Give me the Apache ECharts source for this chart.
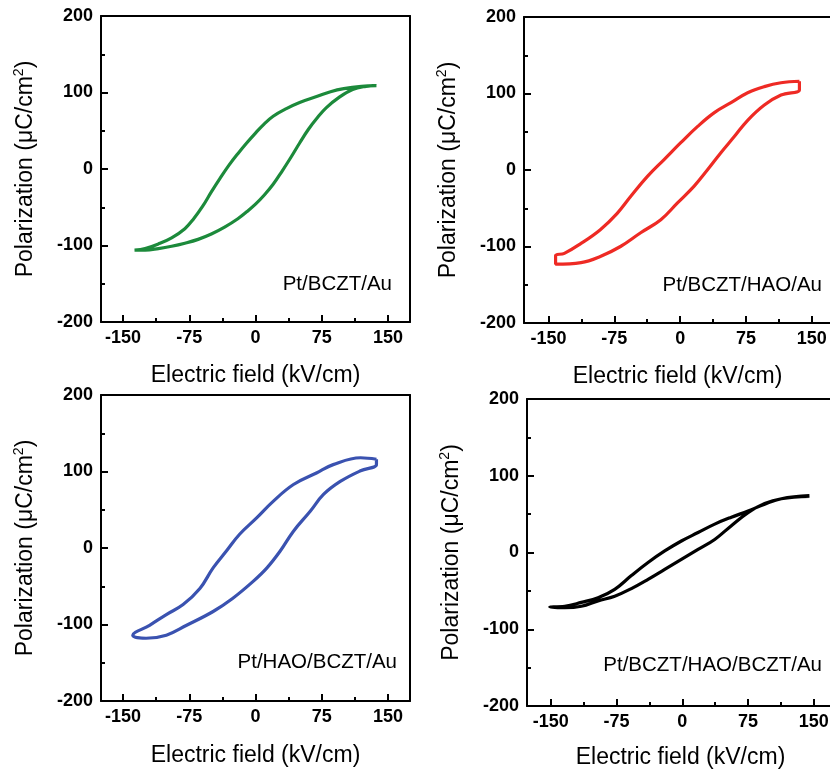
<!DOCTYPE html>
<html><head><meta charset="utf-8">
<script src="https://cdn.jsdelivr.net/npm/echarts@6/dist/echarts.min.js"></script>
<style>html,body{margin:0;padding:0;background:#fff;}#c{width:830px;height:769px;}</style>
</head><body><div id="c"></div>
<script>
// ---- tick values ----
const xTicks = [-150, -75, 0, 75, 150];
const xMinorTicks = [-112.5, -37.5, 37.5, 112.5];
const panelLabels = ['Pt/BCZT/Au', 'Pt/BCZT/HAO/Au', 'Pt/HAO/BCZT/Au', 'Pt/BCZT/HAO/BCZT/Au'];
const xTitle = 'Electric field (kV/cm)';

// ---- Panel 1: Pt/BCZT/Au (green) ----
const e1Up = [137, 120, 100, 85, 70, 50, 35, 20, 10, 0, -10, -20, -30, -40, -50, -60, -70, -80, -95, -110, -125, -137];
const p1Up = [109, 108, 105, 101, 95, 87, 79, 69, 59, 47, 34, 20, 5, -12, -30, -49, -65, -78, -90, -98, -104, -106];
const e1Dn = [-137, -125, -110, -95, -80, -65, -50, -35, -20, -10, 0, 10, 20, 30, 40, 50, 60, 70, 80, 95, 110, 125, 137];
const p1Dn = [-106, -106, -104, -101, -97, -92, -85, -76, -65, -56, -46, -34, -20, -3, 15, 34, 52, 67, 80, 94, 104, 108, 109];

// ---- Panel 2: Pt/BCZT/HAO/Au (red) ----
const e2Up = [136, 115, 96, 77, 58, 39, 20, 1, -18, -37, -56, -72, -91, -113, -132, -142];
const p2Up = [116, 114, 109, 101, 88, 75, 57, 36, 14, -8, -34, -57, -78, -96, -109, -112];
const e2Dn = [-142, -113, -91, -68, -45, -22, -3, 16, 31, 46, 62, 77, 96, 115, 136, 136];
const p2Dn = [-123, -121, -113, -100, -82, -65, -43, -21, 0, 22, 44, 65, 85, 98, 105, 116];

// ---- Panel 3: Pt/HAO/BCZT/Au (blue) ----
const e3Up = [137, 119, 88, 69, 43, 20, 1, -18, -33, -48, -63, -82, -101, -120, -139];
const p3Up = [116, 118, 109, 98, 83, 61, 39, 18, -4, -26, -53, -74, -87, -101, -114];
const e3Dn = [-139, -124, -101, -78, -48, -26, -3, 13, 28, 43, 62, 77, 96, 119, 137, 137];
const p3Dn = [-114, -118, -114, -101, -83, -66, -44, -26, -4, 22, 48, 70, 87, 101, 109, 116];

// ---- Panel 4: Pt/BCZT/HAO/BCZT/Au (black) ----
const e4Up = [145, 113, 94, 75, 56, 37, 18, -1, -20, -39, -58, -77, -96, -115, -134, -151];
const p4Up = [74, 70, 63, 54, 46, 37, 26, 15, 2, -13, -30, -48, -59, -65, -70, -71];
const e4Dn = [-151, -134, -115, -96, -77, -58, -39, -20, -1, 18, 37, 56, 75, 94, 113, 145];
const p4Dn = [-71, -72, -70, -63, -57, -47, -35, -22, -9, 4, 17, 35, 52, 64, 70, 73];

const loops = [
  [e1Up, p1Up, e1Dn, p1Dn],
  [e2Up, p2Up, e2Dn, p2Dn],
  [e3Up, p3Up, e3Dn, p3Dn],
  [e4Up, p4Up, e4Dn, p4Dn]
];
const colors = ['#1c8a3b', '#ee2a24', '#3a52b0', '#000000'];

// ---- layout (pixels) ----
const layout = [
  {left: 101, top: 16, width: 309, height: 306, xmin: -175, xmax: 175, yGap: 62, xGap: 42, lx: 392, ly: 284},
  {left: 524, top: 17, width: 307, height: 306, xmin: -178, xmax: 172, yGap: 62, xGap: 42, lx: 822, ly: 285},
  {left: 101, top: 395, width: 309, height: 306, xmin: -175, xmax: 175, yGap: 62, xGap: 43, lx: 397, ly: 662},
  {left: 527, top: 399, width: 307, height: 307, xmin: -177, xmax: 173, yGap: 62, xGap: 40, lx: 822, ly: 665}
];

const FONT = '"Liberation Sans", Arial, Helvetica, sans-serif';
const grid = [], xAxis = [], yAxis = [], series = [], graphic = [];
const lineSty = {color: '#000', width: 2};
layout.forEach((L, i) => {
  grid.push({left: L.left, top: L.top, width: L.width, height: L.height,
    outerBoundsMode: 'none', containLabel: false, show: false});
  // main bottom axis: labels + major ticks
  xAxis.push({
    type: 'value', gridIndex: i, min: L.xmin, max: L.xmax, position: 'bottom',
    name: xTitle, nameLocation: 'middle', nameGap: L.xGap,
    nameTextStyle: {fontFamily: FONT, fontSize: 23, color: '#000'},
    axisLine: {show: true, onZero: false, lineStyle: lineSty},
    axisTick: {show: true, inside: true, length: 7, lineStyle: lineSty, customValues: xTicks},
    axisLabel: {show: true, margin: 7, fontFamily: FONT, fontSize: 18, fontWeight: 'bold', color: '#000', customValues: xTicks},
    splitLine: {show: false}
  });
  // minor ticks on bottom
  xAxis.push({
    type: 'value', gridIndex: i, min: L.xmin, max: L.xmax, position: 'bottom',
    axisLine: {show: false, onZero: false},
    axisTick: {show: true, inside: true, length: 4, lineStyle: lineSty, customValues: xMinorTicks},
    axisLabel: {show: false}, splitLine: {show: false}
  });
  // top frame line
  xAxis.push({
    type: 'value', gridIndex: i, min: L.xmin, max: L.xmax, position: 'top',
    axisLine: {show: true, onZero: false, lineStyle: lineSty},
    axisTick: {show: false}, axisLabel: {show: false}, splitLine: {show: false}
  });
  yAxis.push({
    type: 'value', gridIndex: i, min: -200, max: 200, interval: 100, position: 'left',
    name: '{a|Polarization (μC/cm}{s|2}{a|)}', nameLocation: 'middle', nameGap: L.yGap, nameRotate: 90,
    nameTextStyle: {fontFamily: FONT, fontSize: 23, color: '#000',
      rich: {a: {fontFamily: FONT, fontSize: 23, color: '#000', lineHeight: 27},
             s: {fontFamily: FONT, fontSize: 14, color: '#000', verticalAlign: 'top', lineHeight: 27}}},
    axisLine: {show: true, onZero: false, lineStyle: lineSty},
    axisTick: {show: true, inside: true, length: 7, lineStyle: lineSty},
    minorTick: {show: true, splitNumber: 2, length: 4, lineStyle: lineSty},
    axisLabel: {show: true, margin: 8, fontFamily: FONT, fontSize: 18, fontWeight: 'bold', color: '#000'},
    splitLine: {show: false}, minorSplitLine: {show: false}
  });
  // right frame line
  yAxis.push({
    type: 'value', gridIndex: i, min: -200, max: 200, position: 'right',
    axisLine: {show: true, onZero: false, lineStyle: lineSty},
    axisTick: {show: false}, axisLabel: {show: false}, splitLine: {show: false}
  });
  const [eu, pu, ed, pd] = loops[i];
  const data = eu.map((e, k) => [e, pu[k]]).concat(ed.map((e, k) => [e, pd[k]]));
  series.push({
    type: 'line', xAxisIndex: i * 3, yAxisIndex: i * 2, data: data,
    showSymbol: false, smooth: 0.4, clip: false,
    lineStyle: {color: colors[i], width: 3.2}, itemStyle: {color: colors[i]},
    animation: false, silent: true
  });
  graphic.push({type: 'text', x: L.lx, y: L.ly,
    style: {text: panelLabels[i], fontFamily: FONT, fontSize: 20.5, fill: '#000', textAlign: 'right', textVerticalAlign: 'middle'}});
});

const chart = echarts.init(document.getElementById('c'), null, {renderer: 'canvas'});
chart.setOption({animation: false, backgroundColor: '#fff', grid, xAxis, yAxis, series, graphic});
</script></body></html>
